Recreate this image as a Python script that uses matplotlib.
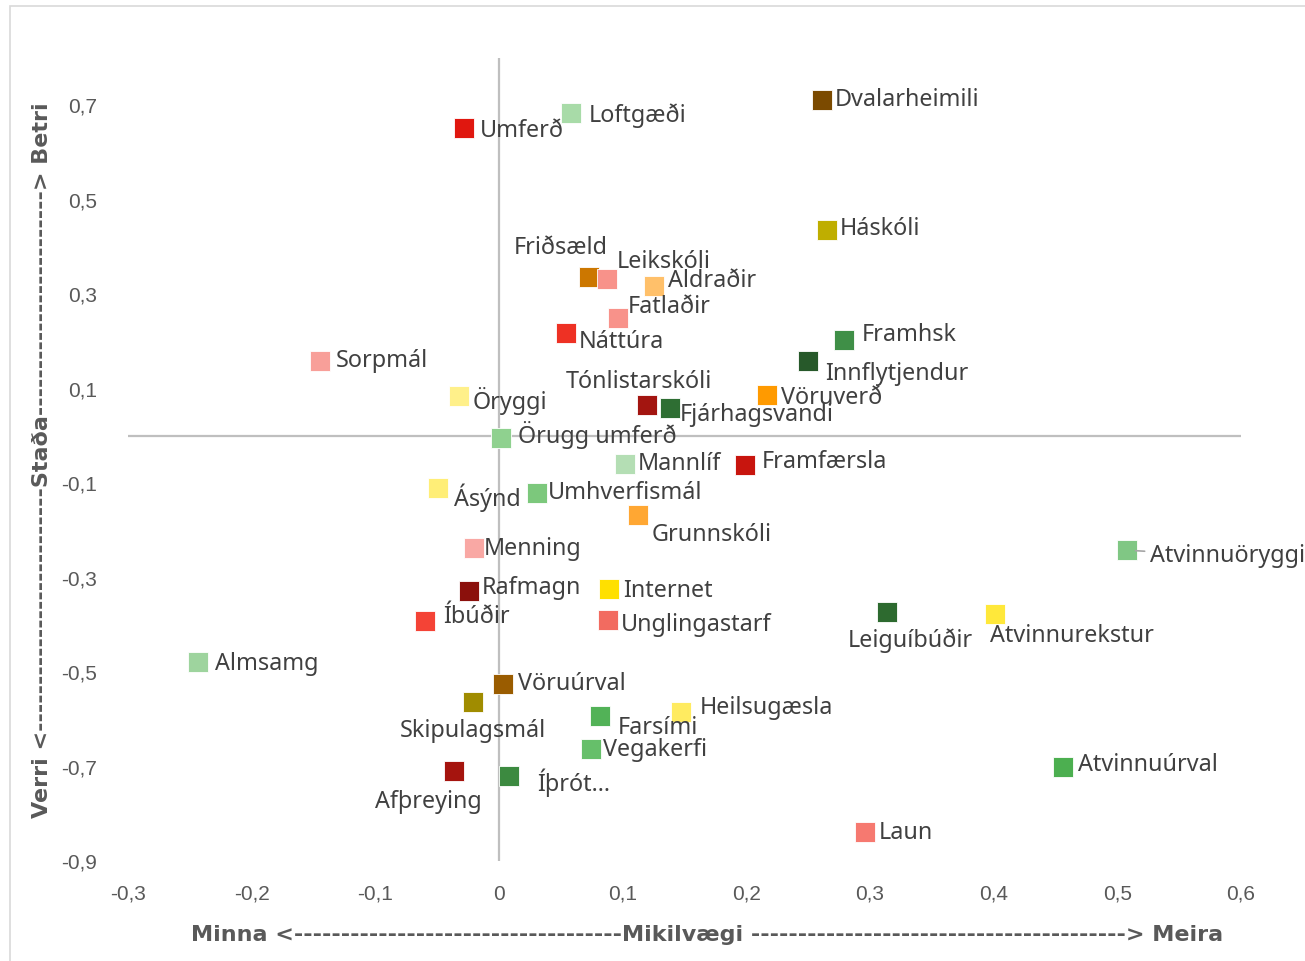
import matplotlib
matplotlib.use("Agg")
import matplotlib.pyplot as plt
from matplotlib.patches import Rectangle
from matplotlib.ticker import FuncFormatter

# Data: importance (x) vs. status (y)
names = [
    "Umferð", "Loftgæði", "Dvalarheimili", "Háskóli", "Friðsæld", "Leikskóli",
    "Aldraðir", "Fatlaðir", "Náttúra", "Sorpmál", "Framhsk", "Innflytjendur",
    "Vöruverð", "Öryggi", "Tónlistarskóli", "Fjárhagsvandi", "Örugg umferð",
    "Mannlíf", "Framfærsla", "Ásýnd", "Umhverfismál", "Grunnskóli", "Menning",
    "Atvinnuöryggi", "Rafmagn", "Internet", "Íbúðir", "Unglingastarf",
    "Leiguíbúðir", "Atvinnurekstur", "Almsamg", "Vöruúrval", "Skipulagsmál",
    "Farsími", "Heilsugæsla", "Vegakerfi", "Atvinnuúrval", "Afþreying",
    "Íþrót...", "Laun",
]
importance = [
    -0.028, 0.058, 0.261, 0.265, 0.073, 0.087,
    0.125, 0.096, 0.054, -0.145, 0.279, 0.250,
    0.217, -0.032, 0.120, 0.138, 0.002,
    0.102, 0.199, -0.049, 0.031, 0.112, -0.020,
    0.508, -0.024, 0.089, -0.060, 0.088,
    0.314, 0.401, -0.243, 0.003, -0.021,
    0.082, 0.147, 0.074, 0.456, -0.036,
    0.008, 0.296,
]
status = [
    0.651, 0.683, 0.711, 0.436, 0.336, 0.332,
    0.317, 0.249, 0.217, 0.158, 0.203, 0.158,
    0.086, 0.084, 0.065, 0.059, -0.005,
    -0.060, -0.062, -0.111, -0.121, -0.168, -0.238,
    -0.242, -0.329, -0.325, -0.392, -0.390,
    -0.373, -0.377, -0.479, -0.526, -0.564,
    -0.593, -0.585, -0.663, -0.701, -0.710,
    -0.720, -0.839,
]
colors = [
    "#E0170F", "#A8DBA8", "#7B4A00", "#BFAE00", "#CC7700", "#F8928A",
    "#FFC06A", "#F8928A", "#EE3124", "#F89F99", "#3F8F47", "#27592A",
    "#FF9A00", "#FFF08A", "#A31510", "#2E6E33", "#8FD18F",
    "#B4DEB4", "#C8150E", "#FFEE77", "#7CC87C", "#FFA733", "#F9A8A4",
    "#80C784", "#8B100C", "#FFE000", "#F44336", "#F26B60",
    "#2D6A2F", "#FFE83A", "#9ED49E", "#9A5C00", "#A08C00",
    "#52B257", "#FFEB60", "#66BF6A", "#4CAF50", "#A5140E",
    "#3C8A40", "#F67970",
]
x_ticks = [-0.3, -0.2, -0.1, 0, 0.1, 0.2, 0.3, 0.4, 0.5, 0.6]
y_ticks = [-0.9, -0.7, -0.5, -0.3, -0.1, 0.1, 0.3, 0.5, 0.7]

# label placement: (dx px, dy px downward, horizontal alignment)
placement = {
    "Umferð": (16, 3, "left"), "Loftgæði": (18, 2, "left"),
    "Dvalarheimili": (13, 0, "left"), "Háskóli": (13, -1, "left"),
    "Friðsæld": (-29, -29, "center"), "Leikskóli": (10, -17, "left"),
    "Aldraðir": (14, -5, "left"), "Fatlaðir": (10, -11, "left"),
    "Náttúra": (13, 9, "left"), "Sorpmál": (16, 0, "left"),
    "Framhsk": (18, -5, "left"), "Innflytjendur": (17, 13, "left"),
    "Vöruverð": (14, 3, "left"), "Öryggi": (13, 5, "left"),
    "Tónlistarskóli": (-9, -23, "center"), "Fjárhagsvandi": (10, 7, "left"),
    "Örugg umferð": (17, -3, "left"), "Mannlíf": (13, 0, "left"),
    "Framfærsla": (17, -3, "left"), "Ásýnd": (16, 9, "left"),
    "Umhverfismál": (11, 0, "left"), "Grunnskóli": (14, 20, "left"),
    "Menning": (9, 1, "left"), "Atvinnuöryggi": (23, 6, "left"),
    "Rafmagn": (12, -3, "left"), "Internet": (14, 2, "left"),
    "Íbúðir": (18, -4, "left"), "Unglingastarf": (13, 5, "left"),
    "Leiguíbúðir": (23, 29, "center"), "Atvinnurekstur": (-5, 22, "left"),
    "Almsamg": (17, 2, "left"), "Vöruúrval": (15, 0, "left"),
    "Skipulagsmál": (0, 29, "center"), "Farsími": (17, 12, "left"),
    "Heilsugæsla": (19, -4, "left"), "Vegakerfi": (12, 1, "left"),
    "Atvinnuúrval": (15, -2, "left"), "Afþreying": (-26, 31, "center"),
    "Íþrót...": (28, 7, "left"), "Laun": (14, 1, "left"),
}

fig = plt.figure(figsize=(13.05, 9.61), dpi=100)
fig.patches.append(Rectangle((10 / 1305, -0.01), 1.0, 1 - 6 / 961 + 0.01,
                             transform=fig.transFigure, fill=False,
                             edgecolor="#D9D9D9", linewidth=1.2))
ax = fig.add_axes([128 / 1305, 1 - 861 / 961, (1241 - 128) / 1305, (861 - 58) / 961])

ax.axhline(0, color="#BFBFBF", lw=1.6, zorder=1)
ax.axvline(0, color="#BFBFBF", lw=1.6, zorder=1)

for nm, xv, yv, c in zip(names, importance, status, colors):
    ax.plot(xv, yv, marker="s", markersize=14.5, color=c,
            markeredgecolor="white", markeredgewidth=0.6, zorder=3)
    dx, dy, ha = placement[nm]
    kw = {}
    if nm == "Atvinnuöryggi":
        kw["arrowprops"] = dict(arrowstyle="-", color="#A6A6A6", lw=1.2,
                                shrinkA=2, shrinkB=6)
    ax.annotate(nm, (xv, yv), xytext=(dx, -dy), textcoords="offset pixels",
                ha=ha, va="center", fontsize=16.8, color="#404040",
                family="Noto Sans", zorder=4, annotation_clip=False, **kw)

ax.set_xlim(-0.3, 0.6)
ax.set_ylim(-0.9, 0.8)
ax.set_xticks(x_ticks)
ax.set_yticks(y_ticks)
fmt = FuncFormatter(lambda v, p: ("%g" % round(v, 1)).replace(".", ","))
ax.xaxis.set_major_formatter(fmt)
ax.yaxis.set_major_formatter(fmt)
ax.tick_params(length=0, labelsize=15, labelcolor="#595959")
for lbl in ax.get_xticklabels() + ax.get_yticklabels():
    lbl.set_family("Liberation Sans")
ax.tick_params(axis="x", pad=17)
ax.tick_params(axis="y", pad=22)
for s in ax.spines.values():
    s.set_visible(False)

title_font = dict(fontsize=16, fontweight="bold", color="#595959",
                  family="DejaVu Sans")
fig.text(707 / 1305, 1 - 935 / 961,
         "Minna <" + "-" * 35 + "Mikilvægi " + "-" * 40 + "> Meira",
         ha="center", va="center", **title_font)
fig.text(42 / 1305, 1 - 460 / 961,
         "Verri <" + "-" * 26 + "Staða" + "-" * 24 + "> Betri",
         ha="center", va="center", rotation=90, **title_font)

fig.savefig("out.png", dpi=100)
